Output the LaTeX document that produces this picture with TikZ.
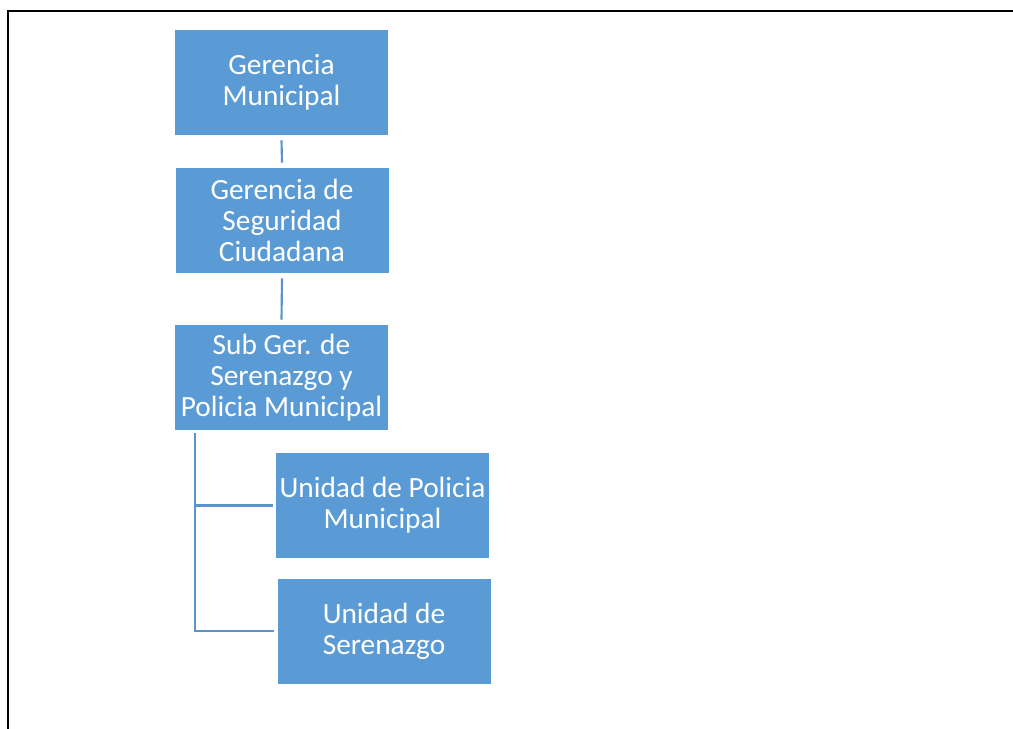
\documentclass[tikz,border=0pt]{standalone}
\usepackage{fontspec}
\setmainfont{Carlito}
\definecolor{boxblue}{HTML}{5B9BD5}
\definecolor{lineblue}{HTML}{5B93CC}
\begin{document}
\begin{tikzpicture}[x=0.75pt,y=-0.75pt,
  unit/.style={fill=boxblue, draw=none, text=white, align=center,
    minimum width=213*0.75pt, minimum height=105*0.75pt, inner sep=0pt,
    font=\fontsize{22}{23.3}\selectfont},
  link/.style={draw=lineblue, line width=1.6pt}]
  \useasboundingbox (0,0) rectangle (1013,728);
  % page frame
  \draw[line width=1.6pt] (8,740) -- (8,11) -- (1013,11);
  % units
  \node[unit] (gm)  at (281.5,82.5)  {Gerencia\\Municipal};
  \node[unit] (gsc) at (282,220.5)   {Gerencia de\\Seguridad\\Ciudadana};
  \node[unit] (sub) at (281.5,377.5) {Sub Ger. de\\Serenazgo y\\Policia Municipal};
  \node[unit] (upm) at (382.5,505.5) {Unidad de Policia\\Municipal};
  \node[unit] (us)  at (384,631)     {Unidad de\\Serenazgo};
  % connectors
  \draw[link] ([yshift=-5*0.75pt]gm.south) -- ([yshift=5*0.75pt]gsc.north);
  \draw[link] ([yshift=-5*0.75pt]gsc.south) -- ([yshift=5*0.75pt]sub.north);
  \draw[link] ([xshift=20*0.75pt,yshift=-3*0.75pt]sub.south west) |- ([xshift=-3*0.75pt]upm.west);
  \draw[link] ([xshift=20*0.75pt,yshift=-3*0.75pt]sub.south west) |- ([xshift=-3*0.75pt]us.west);
\end{tikzpicture}
\end{document}
